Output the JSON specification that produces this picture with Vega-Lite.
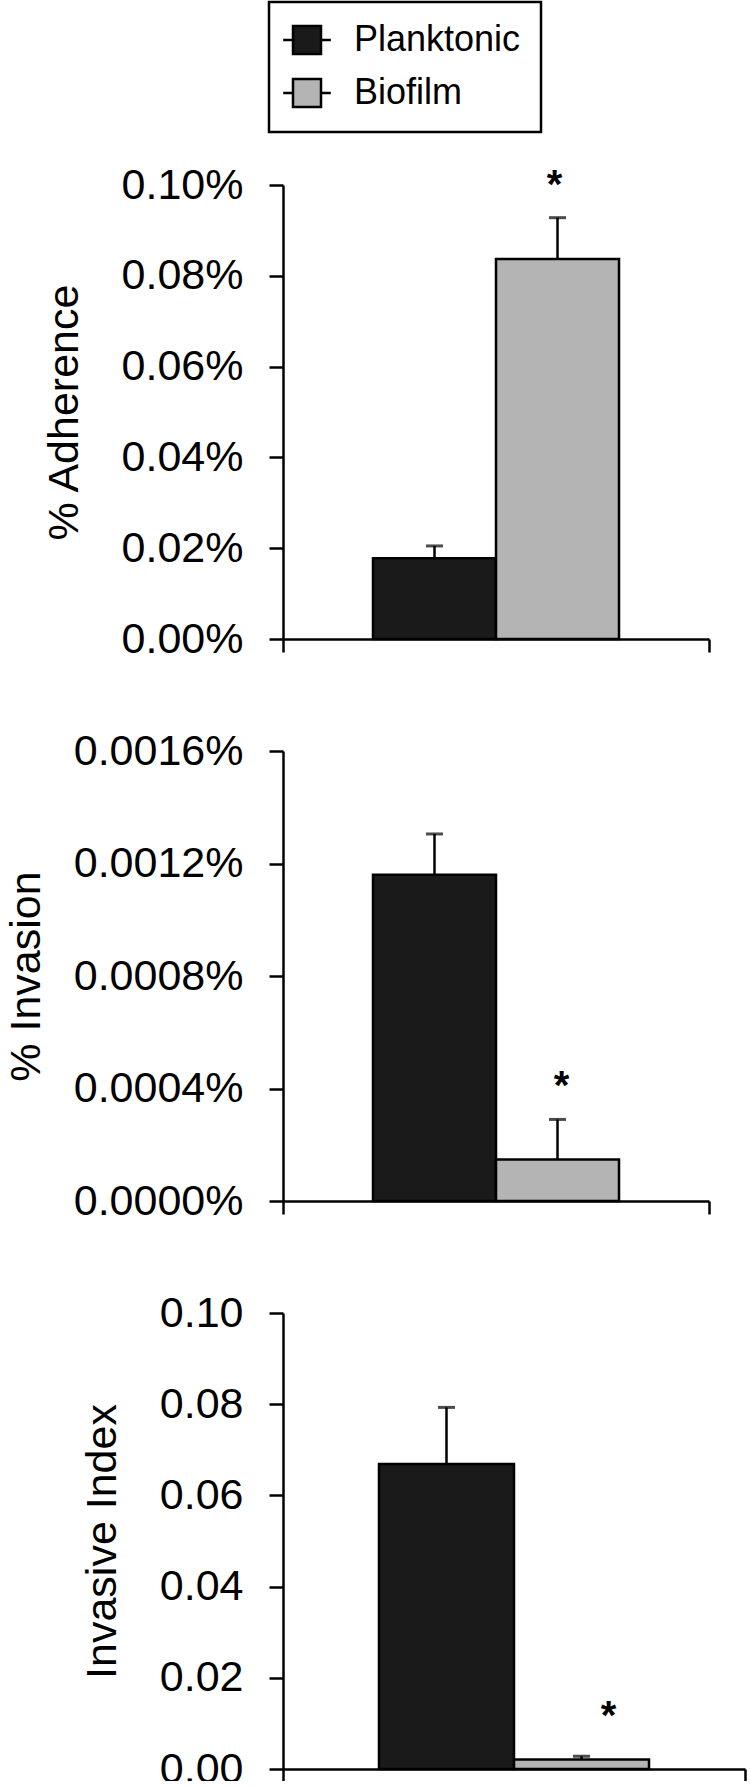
{
  "$schema": "https://vega.github.io/schema/vega-lite/v6.json",
  "padding": {"left": 5, "top": 0, "right": 20, "bottom": -10},
  "background": "white",
  "data": {"values": [
    {"panel": "Adherence", "group": "A", "series": "Planktonic", "value": 0.0178, "hi": 0.0205},
    {"panel": "Adherence", "group": "A", "series": "Biofilm", "value": 0.0837, "hi": 0.0928},
    {"panel": "Invasion", "group": "A", "series": "Planktonic", "value": 0.00116, "hi": 0.001305},
    {"panel": "Invasion", "group": "A", "series": "Biofilm", "value": 0.000148, "hi": 0.00029},
    {"panel": "Index", "group": "A", "series": "Planktonic", "value": 0.0669, "hi": 0.0793},
    {"panel": "Index", "group": "A", "series": "Biofilm", "value": 0.0021, "hi": 0.0028}
  ]},
  "spacing": 112,
  "bounds": "flush",
  "resolve": {"scale": {"x": "independent", "xOffset": "independent", "y": "independent", "color": "shared"}},
  "vconcat": [
    {
      "width": 426, "height": 454,
      "transform": [{"filter": "datum.panel === 'Adherence'"}],
      "encoding": {
        "x": {"field": "group", "type": "nominal", "scale": {"paddingInner": 0, "paddingOuter": 0}, "axis": {"title": null, "labels": false, "tickBand": "extent", "tickSize": 13}},
        "xOffset": {"field": "series", "type": "nominal", "sort": ["Planktonic", "Biofilm"], "scale": {"paddingInner": 0, "paddingOuter": 0.7317}}
      },
      "layer": [
        {"mark": {"type": "bar", "stroke": "black", "strokeWidth": 2.5},
         "encoding": {
           "y": {"field": "value", "type": "quantitative", "scale": {"domain": [0, 0.1], "nice": false},
                 "axis": {"values": [0, 0.02, 0.04, 0.06, 0.08, 0.1], "labelExpr": "format(datum.value, '.2f') + '%'", "title": "% Adherence"}},
           "color": {"field": "series", "type": "nominal", "sort": ["Planktonic", "Biofilm"],
                     "scale": {"domain": ["Planktonic", "Biofilm"], "range": ["#1a1a1a", "#b4b4b4"]},
                     "legend": {"orient": "none", "legendX": -14, "legendY": -183, "title": null, "direction": "vertical",
                                "symbolType": "M-1.7,0H-1M1,0H1.7M-1,-1H1V1H-1Z", "symbolSize": 784,
                                "symbolStrokeColor": "black", "symbolStrokeWidth": 2.5, "symbolOpacity": 1,
                                "labelFontSize": 36, "labelColor": "black", "labelFont": "Liberation Sans", "labelOffset": 29, "labelLimit": 0,
                                "padding": 20, "rowPadding": 15, "strokeColor": "black",
                                "encode": {"legend": {"update": {"strokeWidth": {"value": 2.5}}}}}}
         }},
        {"mark": {"type": "rule", "strokeWidth": 2.5, "color": "black"},
         "encoding": {"y": {"field": "value", "type": "quantitative"}, "y2": {"field": "hi"}}},
        {"mark": {"type": "tick", "color": "black", "thickness": 3, "size": 17},
         "encoding": {"y": {"field": "hi", "type": "quantitative"}}},
        {"transform": [{"filter": "datum.series === 'Biofilm'"}],
         "mark": {"type": "text", "text": "*", "fontSize": 40, "fontWeight": "bold", "baseline": "alphabetic", "dy": -20, "dx": -3, "color": "black"},
         "encoding": {"y": {"field": "hi", "type": "quantitative"}}}
      ]
    },
    {
      "width": 426, "height": 450,
      "transform": [{"filter": "datum.panel === 'Invasion'"}],
      "encoding": {
        "x": {"field": "group", "type": "nominal", "scale": {"paddingInner": 0, "paddingOuter": 0}, "axis": {"title": null, "labels": false, "tickBand": "extent", "tickSize": 13}},
        "xOffset": {"field": "series", "type": "nominal", "sort": ["Planktonic", "Biofilm"], "scale": {"paddingInner": 0, "paddingOuter": 0.7317}}
      },
      "layer": [
        {"mark": {"type": "bar", "stroke": "black", "strokeWidth": 2.5},
         "encoding": {
           "y": {"field": "value", "type": "quantitative", "scale": {"domain": [0, 0.0016], "nice": false},
                 "axis": {"values": [0, 0.0004, 0.0008, 0.0012, 0.0016], "labelExpr": "format(datum.value, '.4f') + '%'", "title": "% Invasion"}},
           "color": {"field": "series", "type": "nominal", "sort": ["Planktonic", "Biofilm"],
                     "scale": {"domain": ["Planktonic", "Biofilm"], "range": ["#1a1a1a", "#b4b4b4"]}, "legend": null}
         }},
        {"mark": {"type": "rule", "strokeWidth": 2.5, "color": "black"},
         "encoding": {"y": {"field": "value", "type": "quantitative"}, "y2": {"field": "hi"}}},
        {"mark": {"type": "tick", "color": "black", "thickness": 3, "size": 17},
         "encoding": {"y": {"field": "hi", "type": "quantitative"}}},
        {"transform": [{"filter": "datum.series === 'Biofilm'"}],
         "mark": {"type": "text", "text": "*", "fontSize": 40, "fontWeight": "bold", "baseline": "alphabetic", "dy": -20, "dx": 4, "color": "black"},
         "encoding": {"y": {"field": "hi", "type": "quantitative"}}}
      ]
    },
    {
      "width": 462, "height": 456,
      "transform": [{"filter": "datum.panel === 'Index'"}],
      "encoding": {
        "x": {"field": "group", "type": "nominal", "scale": {"paddingInner": 0, "paddingOuter": 0}, "axis": {"title": null, "labels": false, "tickBand": "extent", "tickSize": 13}},
        "xOffset": {"field": "series", "type": "nominal", "sort": ["Planktonic", "Biofilm"], "scale": {"paddingInner": 0, "paddingOuter": 0.711}}
      },
      "layer": [
        {"mark": {"type": "bar", "stroke": "black", "strokeWidth": 2.5},
         "encoding": {
           "y": {"field": "value", "type": "quantitative", "scale": {"domain": [0, 0.1], "nice": false},
                 "axis": {"values": [0, 0.02, 0.04, 0.06, 0.08, 0.1], "labelExpr": "format(datum.value, '.2f')", "title": "Invasive Index"}},
           "color": {"field": "series", "type": "nominal", "sort": ["Planktonic", "Biofilm"],
                     "scale": {"domain": ["Planktonic", "Biofilm"], "range": ["#1a1a1a", "#b4b4b4"]}, "legend": null}
         }},
        {"mark": {"type": "rule", "strokeWidth": 2.5, "color": "black"},
         "encoding": {"y": {"field": "value", "type": "quantitative"}, "y2": {"field": "hi"}}},
        {"mark": {"type": "tick", "color": "black", "thickness": 3, "size": 17},
         "encoding": {"y": {"field": "hi", "type": "quantitative"}}},
        {"transform": [{"filter": "datum.series === 'Biofilm'"}],
         "mark": {"type": "text", "text": "*", "fontSize": 40, "fontWeight": "bold", "baseline": "alphabetic", "dy": -27, "dx": 27, "color": "black"},
         "encoding": {"y": {"field": "hi", "type": "quantitative"}}}
      ]
    }
  ],
  "config": {
    "font": "Liberation Sans",
    "view": {"stroke": null},
    "axis": {
      "domainColor": "black", "domainWidth": 2.5, "tickColor": "black", "tickWidth": 2.5, "grid": false,
      "labelColor": "black", "titleColor": "black", "labelFontSize": 43, "titleFontSize": 43, "titleFontWeight": "normal",
      "labelFont": "Liberation Sans", "titleFont": "Liberation Sans"
    },
    "axisY": {"tickSize": 14, "labelPadding": 26, "titlePadding": 35}
  }
}
